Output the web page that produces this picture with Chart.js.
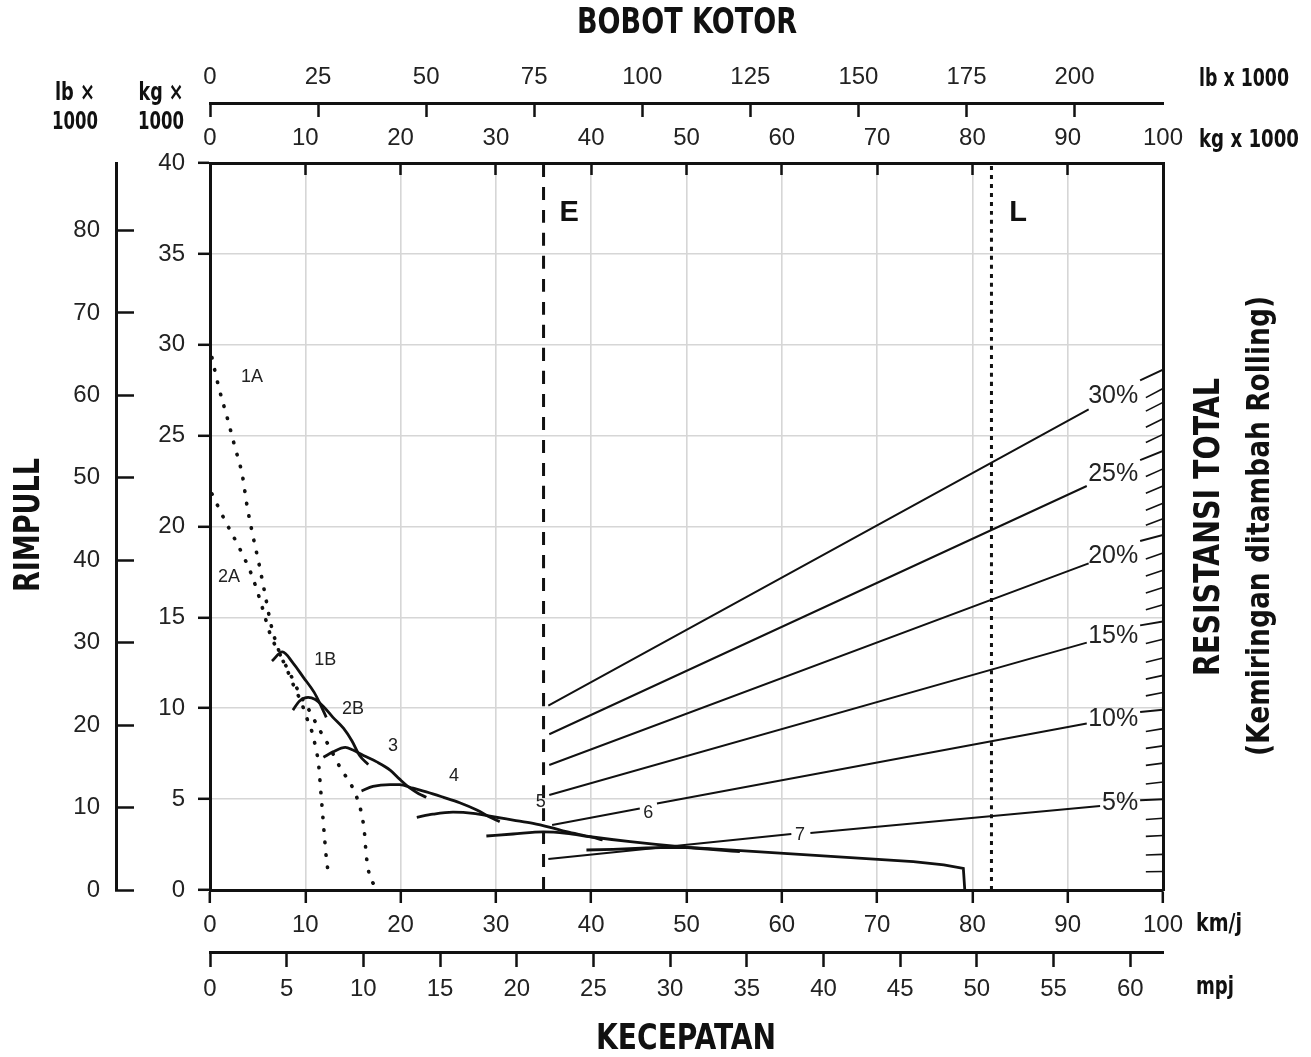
<!DOCTYPE html>
<html lang="id">
<head>
<meta charset="UTF-8">
<title>Rimpull - Kecepatan - Bobot Kotor</title>
<script src="https://cdn.jsdelivr.net/npm/chart.js"></script>
<style>
body { margin: 0; background: #fff; }
#wrap { width: 1311px; height: 1057px; }
</style>
</head>
<body>
<div id="wrap"><canvas id="rimpullChart" width="1311" height="1057"></canvas></div>
<script>
// kurva rimpull per gigi: [km/j, kg x 1000]
const gear1A = [[0.2,29.3],[0.9,27.7],[1.8,26.0],[2.6,24.4],[3.4,22.8],[3.9,21.1],[4.5,19.5],[5.2,17.8],[5.8,16.2],[6.4,14.6],[7.2,13.2],[8.1,12.1],[8.9,11.1],[9.6,10.3],[10.2,9.4],[10.7,8.7],[11.1,7.8],[11.4,6.9],[11.6,5.6],[11.8,4.3],[12.0,3.0],[12.2,1.8],[12.5,0.6]];
const gear2A = [[0.2,21.8],[1.6,20.3],[3.1,18.8],[4.4,17.3],[5.4,15.7],[6.3,14.1],[7.3,13.0],[8.4,11.9],[9.5,10.7],[10.5,9.8],[11.4,8.9],[12.4,8.0],[13.1,7.3],[13.8,6.6],[14.7,5.9],[15.4,5.1],[15.9,4.2],[16.2,3.2],[16.4,1.9],[16.7,0.9],[17.3,0.2]];
const gear1B = [[6.5,12.6],[7.6,13.1],[8.7,12.5],[9.8,11.7],[10.9,10.9],[11.5,10.3],[12.2,9.5]];
const gear2B = [[8.7,9.9],[9.4,10.4],[10.3,10.6],[11.0,10.5],[11.9,10.1],[12.9,9.5],[14.0,8.9],[14.9,8.2],[15.7,7.4],[16.6,6.9]];
const gear3 = [[11.9,7.3],[12.9,7.6],[14.2,7.85],[15.0,7.7],[16.1,7.4],[17.5,7.05],[18.9,6.6],[19.9,6.1],[21.0,5.6],[21.9,5.3],[22.7,5.1]];
const gear4 = [[15.9,5.45],[17.1,5.7],[18.9,5.8],[19.9,5.8],[21.3,5.6],[22.7,5.4],[24.5,5.1],[26.2,4.8],[28.0,4.4],[29.4,4.0],[30.4,3.75]];
const gear5 = [[21.7,4.0],[23.4,4.17],[25.5,4.28],[27.6,4.22],[29.7,4.03],[31.8,3.85],[33.9,3.67],[35.7,3.45],[37.4,3.21],[39.9,2.93],[41.2,2.75]];
const gear6 = [[29.0,2.97],[31.8,3.08],[35.0,3.2],[37.4,3.12],[39.9,2.93],[44.1,2.66],[49.3,2.38],[55.6,2.11]];
const gear7 = [[39.5,2.2],[42.3,2.24],[45.8,2.31],[48.0,2.35],[50.5,2.33],[52.8,2.26],[59.8,2.03],[66.8,1.8],[73.8,1.56],[77.0,1.38],[79.05,1.19],[79.2,0]];

// garis resistansi total (null = celah untuk label)
const grade5 = [[35.5,1.71],[61.0,3.08],[62,null],[63.0,3.14],[93.4,4.62],[95,null],[97.6,4.94],[100,5.0]];
const grade10 = [[35.9,3.58],[45.1,4.49],[46,null],[46.9,4.76],[92.0,9.16],[95,null],[97.6,9.79],[100,9.92]];
const grade15 = [[35.6,5.23],[92.0,13.61],[95,null],[97.6,14.56],[100,14.78]];
const grade20 = [[35.6,6.88],[92.2,17.97],[95,null],[97.6,19.2],[100,19.54]];
const grade25 = [[35.6,8.57],[92.0,22.23],[95,null],[97.6,23.65],[100,24.16]];
const grade30 = [[35.5,10.14],[92.2,26.45],[95,null],[97.6,28.04],[100,28.63]];
const gradeLabels = ['5%','10%','15%','20%','25%','30%'];
const gradeLabelY = [4.80, 9.41, 13.99, 18.35, 22.89, 27.15];

// skala tepi kanan (1% .. 30%)
const resistPct = [1,2,3,4,5,6,7,8,9,10,11,12,13,14,15,16,17,18,19,20,21,22,23,24,25,26,27,28,29,30];
const resistTickY = [1.02,1.96,3.0,3.95,5.0,5.94,6.98,7.93,8.88,9.92,10.87,11.81,12.76,13.8,14.78,15.7,16.64,17.59,18.54,19.54,20.43,21.28,22.23,23.17,24.16,25.07,25.93,26.83,27.59,28.63];

// batas E dan L (bobot kosong / bermuatan, kg x 1000)
const weightE = 35;
const weightL = 82;

// label kurva: [teks, km/j, kg x 1000]
const curveLabels = [['1A',4.4,28.2],['2A',2.0,17.2],['1B',12.1,12.65],['2B',15.0,9.94],['3',19.2,7.92],['4',25.6,6.27],['5',34.7,4.86],['6',46.0,4.22],['7',61.9,3.03]];

const LB_PER_KG = 2.20462;
const MPH_PER_KMH = 0.621371;

const sans = "'Liberation Sans', Arial, Helvetica, sans-serif";
const narrow = "'Liberation Sans Narrow', 'DejaVu Sans Condensed', 'Liberation Sans', sans-serif";
const tickFont = { family: sans, size: 24 };
const ink = '#111';

const pts = a => a.map(p => ({ x: p[0], y: p.length > 1 ? p[1] : null }));

function curve(a, extra) {
  return Object.assign({
    data: pts(a), borderColor: ink, borderWidth: 2.8, pointRadius: 0,
    cubicInterpolationMode: 'monotone', fill: false
  }, extra || {});
}

const dotted = { borderDash: [0.5, 12], borderCapStyle: 'round', borderWidth: 3.6 };
const thin = { borderWidth: 2, cubicInterpolationMode: 'default', tension: 0 };
const straight = { cubicInterpolationMode: 'default', tension: 0 };

const datasets = [
  curve(grade5, thin), curve(grade10, thin), curve(grade15, thin),
  curve(grade20, thin), curve(grade25, thin), curve(grade30, thin),
  curve([[weightE, 0], [weightE, 40]], { borderDash: [13, 10], borderWidth: 3, tension: 0 }),
  curve([[weightL, 0], [weightL, 40]], { borderDash: [4, 5], borderWidth: 3, tension: 0 }),
  curve(gear1A, dotted), curve(gear2A, dotted),
  curve(gear1B), curve(gear2B), curve(gear3), curve(gear4),
  curve(gear5), curve(gear6), curve(gear7, straight)
];

function drawText(ctx, str, x, y, o) {
  ctx.save();
  ctx.translate(x, y);
  if (o.rot) ctx.rotate(o.rot);
  ctx.font = o.font;
  ctx.fillStyle = o.color || ink;
  ctx.textAlign = o.align || 'center';
  ctx.textBaseline = 'middle';
  if (o.width) {
    const w = ctx.measureText(str).width;
    ctx.scale(o.width / w, 1);
  }
  ctx.fillText(str, 0, 0);
  ctx.restore();
}

const decor = {
  id: 'decor',
  afterDatasetsDraw(chart) {
    const ctx = chart.ctx;
    const xs = chart.scales.x, ys = chart.scales.y;

    // tanda skala miring di sumbu kanan
    ctx.save();
    ctx.strokeStyle = ink;
    ctx.lineWidth = 1.6;
    resistPct.forEach((p, i) => {
      if (p % 5 === 0) return;
      const len = 1.8;
      ctx.beginPath();
      ctx.moveTo(xs.getPixelForValue(100 - len), ys.getPixelForValue(resistTickY[i] - p * 0.0096 * len));
      ctx.lineTo(xs.getPixelForValue(100), ys.getPixelForValue(resistTickY[i]));
      ctx.stroke();
    });
    ctx.restore();

    curveLabels.forEach(l => {
      drawText(ctx, l[0], xs.getPixelForValue(l[1]), ys.getPixelForValue(l[2]), { font: '18px ' + sans, color: '#222' });
    });
    gradeLabels.forEach((t, i) => {
      drawText(ctx, t, xs.getPixelForValue(97.4), ys.getPixelForValue(gradeLabelY[i]), { font: '25px ' + sans, align: 'right', color: '#222' });
    });
    drawText(ctx, 'E', xs.getPixelForValue(weightE + 2.7), ys.getPixelForValue(37.25), { font: 'bold 29px ' + sans });
    drawText(ctx, 'L', xs.getPixelForValue(weightL + 2.8), ys.getPixelForValue(37.25), { font: 'bold 29px ' + sans });

    // judul dan satuan
    const bold = s => 'bold ' + s + 'px ' + narrow;
    drawText(ctx, 'BOBOT KOTOR', 687, 24, { font: bold(36), width: 220 });
    drawText(ctx, 'KECEPATAN', 686, 1040, { font: bold(36), width: 180 });
    drawText(ctx, 'RIMPULL', 30, 525, { font: bold(36), width: 134, rot: -Math.PI / 2 });
    drawText(ctx, 'RESISTANSI TOTAL', 1210, 527, { font: bold(36), width: 298, rot: -Math.PI / 2 });
    drawText(ctx, '(Kemiringan ditambah Rolling)', 1261, 526, { font: bold(32), width: 460, rot: -Math.PI / 2 });
    drawText(ctx, 'lb ×', 75, 93, { font: bold(25), width: 40 });
    drawText(ctx, '1000', 75, 122, { font: bold(25), width: 46 });
    drawText(ctx, 'kg ×', 161, 93, { font: bold(25), width: 45 });
    drawText(ctx, '1000', 161, 122, { font: bold(25), width: 46 });
    drawText(ctx, 'lb x 1000', 1199, 80, { font: bold(24), align: 'left', width: 90 });
    drawText(ctx, 'kg x 1000', 1199, 141, { font: bold(24), align: 'left', width: 100 });
    drawText(ctx, 'km/j', 1196, 925, { font: bold(24), align: 'left', width: 46 });
    drawText(ctx, 'mpj', 1196, 988, { font: bold(24), align: 'left', width: 38 });
  }
};

const axisBorder = { color: ink, width: 3 };
const tickMark = { tickColor: ink, tickWidth: 2.5 };

new Chart(document.getElementById('rimpullChart'), {
  type: 'line',
  data: { datasets: datasets },
  options: {
    responsive: false,
    maintainAspectRatio: false,
    devicePixelRatio: 1,
    animation: false,
    events: [],
    layout: { padding: 0 },
    plugins: { legend: { display: false }, tooltip: { enabled: false }, title: { display: false } },
    scales: {
      x: {
        type: 'linear', position: 'bottom', weight: 0, min: 0, max: 100,
        ticks: { stepSize: 10, font: tickFont, color: '#222', padding: 8, maxRotation: 0, autoSkip: false },
        grid: Object.assign({ color: '#d6d6d6', lineWidth: 1.6, tickLength: 13 }, tickMark),
        border: axisBorder,
        afterFit: s => { s.height = 62; }
      },
      xm: {
        type: 'linear', position: 'bottom', weight: 1, min: 0, max: 100 * MPH_PER_KMH,
        ticks: { stepSize: 5, includeBounds: false, font: tickFont, color: '#222', padding: 8, maxRotation: 0, autoSkip: false },
        grid: Object.assign({ drawOnChartArea: false, tickLength: 15 }, tickMark),
        border: axisBorder,
        afterFit: s => { s.height = 105; }
      },
      xt: {
        type: 'linear', position: 'top', weight: 0, min: 0, max: 100,
        ticks: { stepSize: 10, font: tickFont, color: '#222', padding: 22, maxRotation: 0, autoSkip: false },
        grid: Object.assign({ drawOnChartArea: false, tickLength: -12 }, tickMark),
        border: axisBorder,
        afterFit: s => { s.height = 60; }
      },
      xlb: {
        type: 'linear', position: 'top', weight: 1, min: 0, max: 100 * LB_PER_KG,
        ticks: { stepSize: 25, includeBounds: false, font: tickFont, color: '#222', padding: 25, maxRotation: 0, autoSkip: false },
        grid: Object.assign({ drawOnChartArea: false, tickLength: -14 }, tickMark),
        border: axisBorder,
        afterFit: s => { s.height = 103; }
      },
      y: {
        type: 'linear', position: 'left', weight: 0, min: 0, max: 40,
        ticks: { stepSize: 5, font: tickFont, color: '#222', padding: 13 },
        grid: Object.assign({ color: '#d6d6d6', lineWidth: 1.6, tickLength: 12 }, tickMark),
        border: axisBorder,
        afterFit: s => { s.width = 94; }
      },
      yl: {
        type: 'linear', position: 'left', weight: 1, min: 0, max: 40 * LB_PER_KG,
        ticks: { stepSize: 10, includeBounds: false, font: tickFont, color: '#222', padding: 34 },
        grid: Object.assign({ drawOnChartArea: false, tickLength: -18 }, tickMark),
        border: axisBorder,
        afterFit: s => { s.width = 116; }
      },
      yr: {
        type: 'linear', position: 'right', min: 0, max: 40,
        ticks: { display: false },
        grid: { drawOnChartArea: false, drawTicks: false },
        border: axisBorder,
        afterFit: s => { s.width = 148; }
      }
    }
  },
  plugins: [decor]
});
</script>
</body>
</html>
